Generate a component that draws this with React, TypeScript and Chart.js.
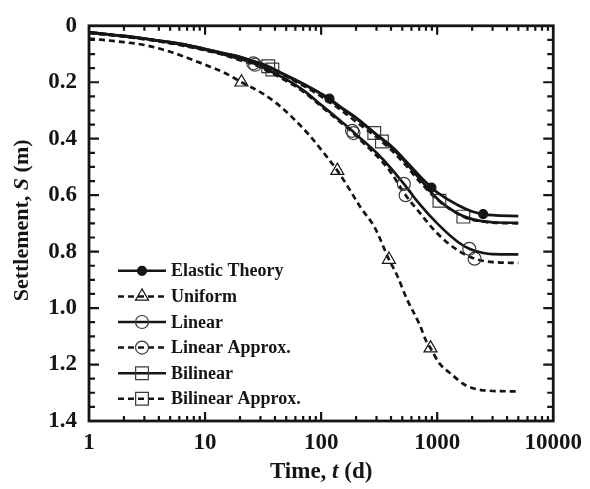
import React, { useEffect, useRef } from 'react';
import { Chart, registerables } from 'chart.js';

Chart.register(...registerables);

// ---- data (time in days, settlement in m) ----
const elasticT = [1, 2, 3, 5, 7, 10, 15, 20, 30, 50, 70, 100, 118, 150, 200, 300, 400, 500, 700, 893, 1000, 1500, 2000, 2490, 3000, 5000];
const elasticS = [0.023, 0.036, 0.045, 0.058, 0.068, 0.082, 0.098, 0.11, 0.135, 0.175, 0.205, 0.24, 0.258, 0.29, 0.325, 0.385, 0.425, 0.465, 0.53, 0.573, 0.59, 0.635, 0.658, 0.667, 0.671, 0.674];
const elasticMarks = [118, 893, 2490];

const uniformT = [1, 2, 3, 5, 7, 10, 15, 20.6, 30, 40, 55, 80, 110, 138, 170, 220, 290, 384, 450, 547, 705, 805, 876, 1050, 1280, 1770, 2620, 5000];
const uniformS = [0.045, 0.058, 0.068, 0.092, 0.113, 0.138, 0.168, 0.2, 0.235, 0.27, 0.32, 0.39, 0.46, 0.513, 0.57, 0.645, 0.715, 0.828, 0.883, 0.967, 1.058, 1.117, 1.142, 1.197, 1.229, 1.274, 1.292, 1.295];
const uniformMarks = [20.6, 138, 384, 876];

const linearT = [1, 2, 3, 5, 7, 10, 15, 20, 26, 30, 50, 70, 100, 150, 185, 200, 300, 400, 516, 700, 1000, 1500, 1890, 2500, 3000, 5000];
const linearS = [0.023, 0.037, 0.046, 0.06, 0.071, 0.085, 0.103, 0.118, 0.133, 0.143, 0.19, 0.228, 0.28, 0.34, 0.372, 0.385, 0.45, 0.505, 0.56, 0.63, 0.7, 0.765, 0.79, 0.805, 0.809, 0.81];
const linearMarks = [26, 185, 516, 1890];

const linApproxT = [1, 2, 3, 5, 7, 10, 15, 20, 27, 30, 50, 70, 100, 150, 190, 200, 300, 400, 535, 700, 1000, 1500, 2100, 3000, 5000];
const linApproxS = [0.025, 0.038, 0.047, 0.062, 0.073, 0.087, 0.105, 0.122, 0.138, 0.147, 0.195, 0.233, 0.285, 0.345, 0.38, 0.39, 0.46, 0.52, 0.6, 0.66, 0.735, 0.795, 0.825, 0.837, 0.84];
const linApproxMarks = [27, 190, 535, 2100];

const bilinearT = [1, 2, 3, 5, 7, 10, 15, 20, 35, 50, 70, 100, 150, 200, 287, 400, 500, 700, 1045, 1500, 2000, 3000, 5000];
const bilinearS = [0.023, 0.036, 0.045, 0.058, 0.068, 0.082, 0.099, 0.112, 0.143, 0.177, 0.207, 0.242, 0.292, 0.328, 0.38, 0.43, 0.47, 0.54, 0.62, 0.665, 0.685, 0.696, 0.698];
const bilinearMarks = [35, 287, 1045];

const biApproxT = [1, 2, 3, 5, 7, 10, 15, 20, 38, 50, 70, 100, 150, 200, 334, 500, 700, 1000, 1680, 2000, 3000, 5000];
const biApproxS = [0.025, 0.038, 0.047, 0.06, 0.07, 0.085, 0.103, 0.117, 0.155, 0.18, 0.212, 0.25, 0.3, 0.34, 0.41, 0.48, 0.55, 0.615, 0.676, 0.687, 0.697, 0.7];
const biApproxMarks = [38, 334, 1680];

const seriesNames = ['Elastic Theory', 'Uniform', 'Linear', 'Linear Approx.', 'Bilinear', 'Bilinear Approx.'];

const xTicks = [1, 10, 100, 1000, 10000];
const xTickLabels = ['1', '10', '100', '1000', '10000'];
const yTicks = [0, 0.2, 0.4, 0.6, 0.8, 1.0, 1.2, 1.4];
const yTickLabels = ['0', '0.2', '0.4', '0.6', '0.8', '1.0', '1.2', '1.4'];

const FONT = '"Liberation Serif", "Times New Roman", serif';
const INK = '#151515';
const MARK = '#3a3a3a';

type Style = { dash: number[]; marker: 'filled' | 'circle' | 'triangle' | 'rect' };
const styles: Style[] = [
  { dash: [], marker: 'filled' },
  { dash: [6, 4], marker: 'triangle' },
  { dash: [], marker: 'circle' },
  { dash: [6, 4], marker: 'circle' },
  { dash: [], marker: 'rect' },
  { dash: [6, 4], marker: 'rect' },
];

function markerRadius(m: Style['marker']) {
  if (m === 'filled') return 4.5;
  if (m === 'circle') return 6.5;
  if (m === 'triangle') return 7.5;
  return 9;
}

function makeDataset(idx: number, ts: number[], ss: number[], marks: number[]) {
  const st = styles[idx];
  const r = markerRadius(st.marker);
  return {
    label: seriesNames[idx],
    data: ts.map((t, i) => ({ x: t, y: ss[i] })),
    borderColor: INK,
    borderWidth: 2.7,
    borderDash: st.dash,
    cubicInterpolationMode: 'monotone' as const,
    fill: false,
    pointStyle: st.marker === 'filled' || st.marker === 'circle' ? 'circle' : st.marker,
    pointRadius: ts.map((t) => (marks.includes(t) ? r : 0)),
    pointHoverRadius: 0,
    pointBorderColor: st.marker === 'filled' ? INK : st.marker === 'triangle' ? INK : MARK,
    pointBackgroundColor: st.marker === 'filled' ? INK : 'rgba(0,0,0,0)',
    pointBorderWidth: 1.2,
  };
}

function drawMarker(ctx: CanvasRenderingContext2D, m: Style['marker'], x: number, y: number) {
  const r = markerRadius(m);
  ctx.save();
  ctx.setLineDash([]);
  ctx.lineWidth = 1.2;
  ctx.strokeStyle = m === 'triangle' || m === 'filled' ? INK : MARK;
  ctx.beginPath();
  if (m === 'filled' || m === 'circle') {
    ctx.arc(x, y, r, 0, Math.PI * 2);
  } else if (m === 'triangle') {
    for (let k = 0; k < 3; k++) {
      const a = (k * 2 * Math.PI) / 3;
      const px = x + Math.sin(a) * r;
      const py = y - Math.cos(a) * r;
      if (k === 0) ctx.moveTo(px, py);
      else ctx.lineTo(px, py);
    }
    ctx.closePath();
  } else {
    const h = Math.SQRT1_2 * r;
    ctx.rect(x - h, y - h, 2 * h, 2 * h);
  }
  if (m === 'filled') {
    ctx.fillStyle = INK;
    ctx.fill();
  }
  ctx.stroke();
  ctx.restore();
}

function drawMixed(ctx: CanvasRenderingContext2D, parts: { text: string; italic?: boolean }[], size: number) {
  const widths = parts.map((p) => {
    ctx.font = `${p.italic ? 'italic ' : ''}bold ${size}px ${FONT}`;
    return ctx.measureText(p.text).width;
  });
  const total = widths.reduce((a, b) => a + b, 0);
  let x = -total / 2;
  parts.forEach((p, i) => {
    ctx.font = `${p.italic ? 'italic ' : ''}bold ${size}px ${FONT}`;
    ctx.fillText(p.text, x, 0);
    x += widths[i];
  });
}

const decorPlugin = {
  id: 'decor',
  afterDatasetsDraw(chart: any) {
    const { ctx, chartArea } = chart;
    const { left, right, top, bottom } = chartArea;
    const xs = chart.scales.x;
    const ys = chart.scales.y;
    ctx.save();
    ctx.strokeStyle = INK;
    ctx.lineCap = 'butt';
    // ticks
    ctx.lineWidth = 2.2;
    ctx.beginPath();
    for (let d = 1; d <= 1000; d *= 10) {
      for (let m = 1; m <= 10; m++) {
        const v = d * m;
        if (v <= 1 || v >= 10000) continue;
        const px = xs.getPixelForValue(v);
        const len = m === 10 ? 9 : 5;
        ctx.moveTo(px, bottom);
        ctx.lineTo(px, bottom - len);
        ctx.moveTo(px, top);
        ctx.lineTo(px, top + len);
      }
    }
    for (let k = 1; k < 28; k++) {
      const v = k * 0.05;
      const py = ys.getPixelForValue(v);
      const len = k % 4 === 0 ? 10 : 6;
      ctx.moveTo(left, py);
      ctx.lineTo(left + len, py);
      ctx.moveTo(right, py);
      ctx.lineTo(right - len, py);
    }
    ctx.stroke();
    // frame
    ctx.lineWidth = 2.8;
    ctx.strokeRect(left, top, right - left, bottom - top);

    // axis titles
    ctx.fillStyle = INK;
    ctx.textBaseline = 'middle';
    ctx.textAlign = 'left';
    ctx.save();
    ctx.translate((left + right) / 2, 472);
    drawMixed(ctx, [{ text: 'Time, ' }, { text: 't', italic: true }, { text: ' (d)' }], 23);
    ctx.restore();
    ctx.save();
    ctx.translate(22, (top + bottom) / 2 - 3);
    ctx.rotate(-Math.PI / 2);
    drawMixed(ctx, [{ text: 'Settlement, ' }, { text: 'S', italic: true }, { text: ' (m)' }], 22);
    ctx.restore();

    // legend
    const lx0 = left + 29;
    const lx1 = left + 77;
    const rowY0 = top + 245;
    const rowH = 25.6;
    seriesNames.forEach((name, i) => {
      const y = rowY0 + i * rowH;
      const st = styles[i];
      ctx.save();
      ctx.lineWidth = 2.5;
      ctx.strokeStyle = INK;
      ctx.setLineDash(st.dash);
      ctx.beginPath();
      ctx.moveTo(lx0, y);
      ctx.lineTo(lx1, y);
      ctx.stroke();
      ctx.restore();
      drawMarker(ctx, st.marker, (lx0 + lx1) / 2, y);
      ctx.font = `bold 18px ${FONT}`;
      ctx.fillStyle = INK;
      ctx.textAlign = 'left';
      ctx.textBaseline = 'middle';
      ctx.fillText(name, lx1 + 5, y + 1);
    });
    ctx.restore();
  },
};

export default function App() {
  const ref = useRef<HTMLCanvasElement | null>(null);
  useEffect(() => {
    if (!ref.current) return;
    const tickFont = { family: FONT, size: 23, weight: 'bold' as const };
    const chart = new Chart(ref.current, {
      type: 'line',
      data: {
        datasets: [
          makeDataset(0, elasticT, elasticS, elasticMarks),
          makeDataset(1, uniformT, uniformS, uniformMarks),
          makeDataset(2, linearT, linearS, linearMarks),
          makeDataset(3, linApproxT, linApproxS, linApproxMarks),
          makeDataset(4, bilinearT, bilinearS, bilinearMarks),
          makeDataset(5, biApproxT, biApproxS, biApproxMarks),
        ] as any,
      },
      options: {
        responsive: false,
        animation: false,
        layout: { padding: { left: 0, top: 20, right: 32, bottom: 0 } },
        plugins: { legend: { display: false }, tooltip: { enabled: false } },
        scales: {
          x: {
            type: 'logarithmic',
            min: 1,
            max: 10000,
            afterBuildTicks: (s: any) => {
              s.ticks = xTicks.map((v) => ({ value: v }));
            },
            afterFit: (s: any) => {
              s.height = 68;
            },
            ticks: {
              callback: (_v: any, i: number) => xTickLabels[i],
              font: tickFont,
              color: INK,
              padding: 8,
              maxRotation: 0,
              autoSkip: false,
            },
            grid: { display: false, drawTicks: false },
            border: { display: false },
          },
          y: {
            type: 'linear',
            reverse: true,
            min: 0,
            max: 1.4,
            afterBuildTicks: (s: any) => {
              s.ticks = yTicks.map((v) => ({ value: v }));
            },
            afterFit: (s: any) => {
              s.width = 89;
            },
            ticks: {
              callback: (_v: any, i: number) => yTickLabels[i],
              font: tickFont,
              color: INK,
              padding: 12,
            },
            grid: { display: false, drawTicks: false },
            border: { display: false },
          },
        },
      } as any,
      plugins: [decorPlugin],
    });
    return () => chart.destroy();
  }, []);
  return (
    <div style={{ position: 'fixed', left: 0, top: 0, width: 590, height: 489, background: '#fff' }}>
      <canvas ref={ref} width={590} height={489} style={{ display: 'block' }} />
    </div>
  );
}
